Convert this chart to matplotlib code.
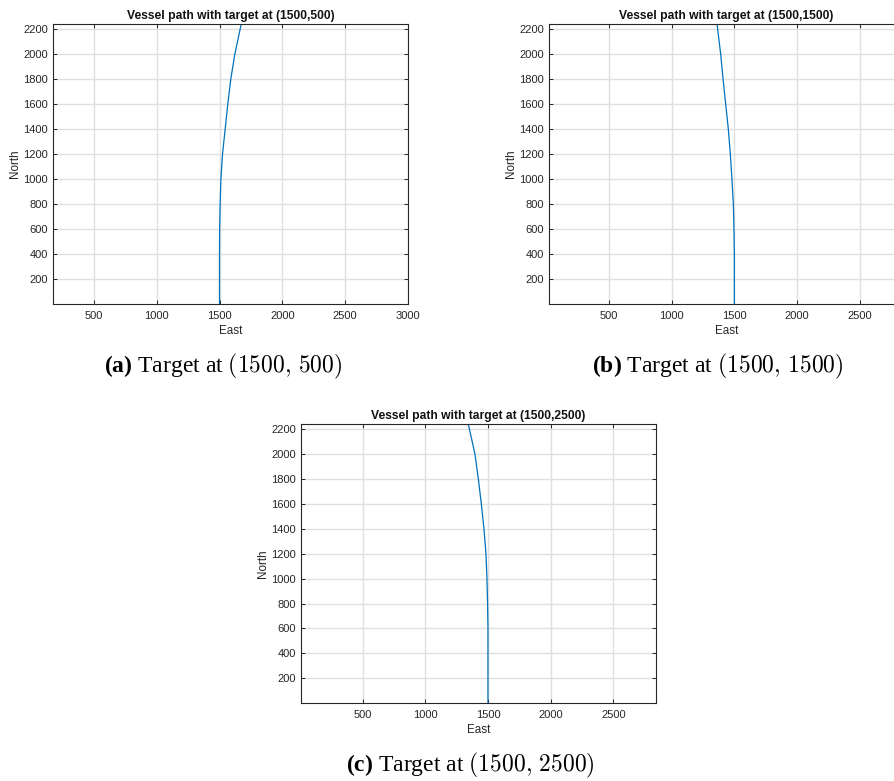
import matplotlib
matplotlib.use("Agg")
import matplotlib.pyplot as plt

# vessel paths (north, east)
north = [0, 200, 400, 600, 800, 1000, 1200, 1400, 1600, 1800, 2000, 2240]
east_a = [1500, 1500, 1500, 1501, 1505, 1511, 1524, 1545, 1566, 1590, 1622, 1673]
east_b = [1500, 1500, 1500, 1497, 1492, 1481, 1468, 1452, 1431, 1410, 1391, 1362]
east_c = [1500, 1500, 1500, 1500, 1497, 1492, 1484, 1468, 1447, 1423, 1396, 1343]

targets = ["(1500,500)", "(1500,1500)", "(1500,2500)"]
captions = [r"$\mathbf{(a)}$ Target at $(1500,\,500)$",
            r"$\mathbf{(b)}$ Target at $(1500,\,1500)$",
            r"$\mathbf{(c)}$ Target at $(1500,\,2500)$"]
yticks = [200, 400, 600, 800, 1000, 1200, 1400, 1600, 1800, 2000, 2200]
xticks_a = [500, 1000, 1500, 2000, 2500, 3000]
xticks_bc = [500, 1000, 1500, 2000, 2500]

plt.rcParams["font.family"] = ["Liberation Sans", "DejaVu Sans"]
# LaTeX-like captions: CM digits, Times bold label
plt.rcParams["mathtext.fontset"] = "custom"
plt.rcParams["mathtext.rm"] = "cmr10"
plt.rcParams["mathtext.it"] = "cmr10"
plt.rcParams["mathtext.bf"] = "Liberation Serif:bold"

W, H = 895, 781
fig = plt.figure(figsize=(W / 100, H / 100), dpi=100)

ink = "#262626"
blue = "#0072BD"


def px_axes(left, top, right, bottom):
    return fig.add_axes([left / W, 1 - bottom / H, (right - left) / W, (bottom - top) / H])


def vessel_panel(ax, east, target, xlim, xticks):
    ax.plot(east, north, color=blue, linewidth=0.9)
    ax.set_xlim(*xlim)
    ax.set_ylim(2, 2240)
    ax.set_xticks(xticks)
    ax.set_yticks(yticks)
    ax.grid(True, color="#e0e0e0", linewidth=1.0)
    ax.set_axisbelow(True)
    for s in ax.spines.values():
        s.set_color(ink)
        s.set_linewidth(0.8)
    ax.tick_params(direction="in", length=3, width=0.7, colors=ink, labelsize=8,
                   top=True, right=True)
    ax.tick_params(axis="x", pad=5)
    ax.tick_params(axis="y", pad=3.5)
    ax.set_xlabel("East", fontsize=8.4, color=ink, labelpad=3)
    ax.set_ylabel("North", fontsize=8.4, color=ink, labelpad=2)
    ax.set_title(f"Vessel path with target at {target}", fontsize=8.7,
                 fontweight="bold", color="#111111", pad=3.5)


ax_a = px_axes(53, 24, 408, 304)
vessel_panel(ax_a, east_a, targets[0], (175, 3000), xticks_a)

ax_b = px_axes(549, 24, 904, 304)
vessel_panel(ax_b, east_b, targets[1], (22, 2853), xticks_bc)

ax_c = px_axes(301, 424, 656, 703)
vessel_panel(ax_c, east_c, targets[2], (8, 2841), xticks_bc)

cap_kw = dict(ha="center", va="center", fontsize=17, family="Liberation Serif")
fig.text(223 / W, 1 - 366 / H, captions[0], **cap_kw)
fig.text(718 / W, 1 - 366 / H, captions[1], **cap_kw)
fig.text(470 / W, 1 - 765 / H, captions[2], **cap_kw)

fig.savefig("out.png", dpi=100)
